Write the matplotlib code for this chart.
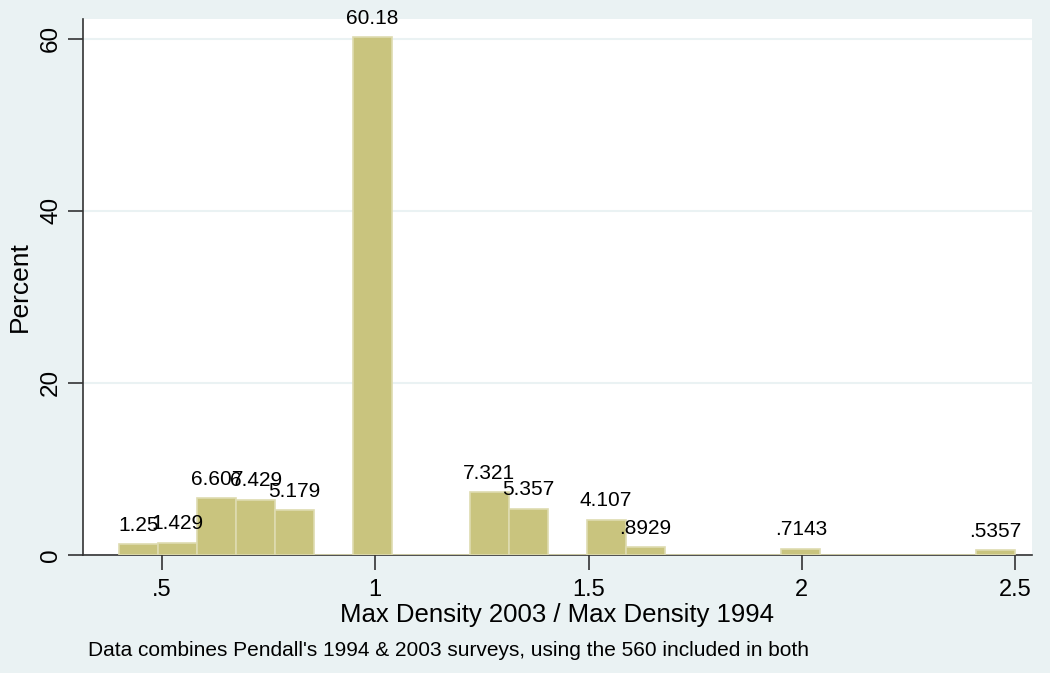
import matplotlib
matplotlib.use('Agg')
import matplotlib.pyplot as plt

# histogram of max density ratio, 23 bins from 0.4 to 2.5
BIN_START = 0.4
BIN_END = 2.5
PERCENT = [1.25, 1.429, 6.607, 6.429, 5.179, 0, 60.18, 0, 0, 7.321, 5.357, 0,
           4.107, 0.8929, 0, 0, 0, 0.7143, 0, 0, 0, 0, 0.5357]
X_TICKS = [0.5, 1, 1.5, 2, 2.5]
X_TICK_LABELS = ['.5', '1', '1.5', '2', '2.5']
Y_TICKS = [0, 20, 40, 60]

BG = '#EAF2F3'
BAR = '#C9C47E'

plt.rcParams['font.family'] = ['Liberation Sans', 'DejaVu Sans']

width = (BIN_END - BIN_START) / len(PERCENT)
lefts = [BIN_START + i * width for i in range(len(PERCENT))]

fig = plt.figure(figsize=(10.5, 6.73), dpi=100, facecolor=BG)
ax = fig.add_axes([83 / 1050, 118 / 673, 949 / 1050, 536 / 673])
ax.set_facecolor('white')

ax.bar(lefts, PERCENT, width=width, align='edge', color=BAR,
       edgecolor='#DEDBB0', linewidth=1.2, zorder=3)

for x, v in zip(lefts, PERCENT):
    if v == 0:
        continue
    lab = f'{v:.4g}'
    if lab.startswith('0.'):
        lab = lab[1:]
    ax.text(x + width / 2, v + 1.1, lab, ha='center', va='bottom',
            fontsize=15, color='black', zorder=4)

ax.set_xlim(0.3146, 2.54)
ax.set_ylim(0, 62.3)
ax.set_xticks(X_TICKS)
ax.set_xticklabels(X_TICK_LABELS, fontsize=17)
ax.set_yticks(Y_TICKS)
ax.set_yticklabels([str(t) for t in Y_TICKS], fontsize=17.5, rotation=90, va='center')
ax.tick_params(axis='both', direction='out', length=11, width=1.2, color='#333333')
ax.tick_params(axis='x', pad=6)
ax.tick_params(axis='y', pad=4)
ax.yaxis.grid(True, color=BG, linewidth=1.5, zorder=0)
ax.set_axisbelow(True)

for side in ['top', 'right']:
    ax.spines[side].set_visible(False)
for side in ['left', 'bottom']:
    ax.spines[side].set_color('#333333')
    ax.spines[side].set_linewidth(1.2)

ax.set_xlabel('Max Density 2003 / Max Density 1994', fontsize=18.5, va='center')
ax.xaxis.set_label_coords(0.5, -60 / 536)
ax.set_ylabel('Percent', fontsize=19, va='center')
ax.yaxis.set_label_coords(-63 / 949, 0.5)

fig.text(88 / 1050, 1 - 650 / 673,
         "Data combines Pendall's 1994 & 2003 surveys, using the 560 included in both",
         fontsize=15, va='center', ha='left')

fig.savefig('out.png', dpi=100, facecolor=BG)
